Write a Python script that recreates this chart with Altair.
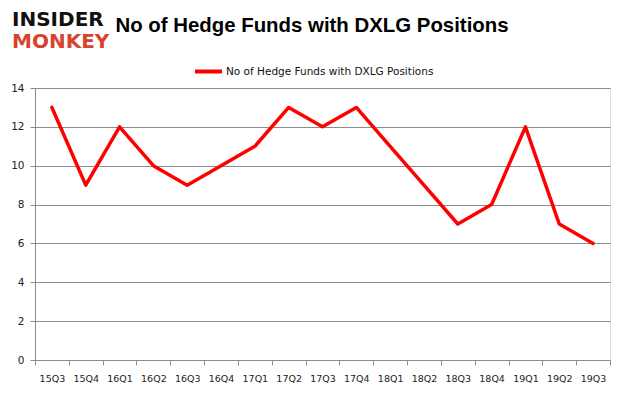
import altair as alt
import pandas as pd

quarters = ["15Q3", "15Q4", "16Q1", "16Q2", "16Q3", "16Q4", "17Q1", "17Q2", "17Q3",
            "17Q4", "18Q1", "18Q2", "18Q3", "18Q4", "19Q1", "19Q2", "19Q3"]
funds = [13, 9, 12, 10, 9, 10, 11, 13, 12, 13, 11, 9, 7, 8, 12, 7, 6]
series_name = "No of Hedge Funds with DXLG Positions"

df = pd.DataFrame({
    "quarter": quarters,
    "pos": [i + 0.5 for i in range(len(quarters))],
    "funds": funds,
    "series": [series_name] * len(quarters),
})

FONT = "DejaVu Sans"
GRID = "#8c8c8c"
n = len(quarters)
label_expr = ("datum.value < " + str(n) + " ? [" + ",".join(f"'{q}'" for q in quarters)
              + "][datum.value] : ''")

W, H = 575, 272
xscale = alt.Scale(domain=[0, n], nice=False, zero=False)
yscale = alt.Scale(domain=[0, 14], nice=False)

line_layer = alt.Chart(df).mark_line(strokeWidth=3.5, strokeJoin="round", strokeCap="round").encode(
    x=alt.X("pos:Q", scale=xscale,
            axis=alt.Axis(values=list(range(n + 1)), labelExpr=label_expr,
                          labelOffset=W / n / 2, title=None, grid=False,
                          tickColor=GRID, tickSize=5, domainColor=GRID,
                          labelFont=FONT, labelFontSize=9.5, labelColor="#222222",
                          labelPadding=8, labelBound=False, labelOverlap=False,
                          labelFlush=False)),
    y=alt.Y("funds:Q", scale=yscale,
            axis=alt.Axis(values=list(range(0, 15, 2)), title=None, grid=True, gridColor=GRID,
                          gridWidth=1, tickColor=GRID, tickSize=5, domainColor=GRID,
                          labelFont=FONT, labelFontSize=10.5, labelColor="#222222",
                          labelPadding=6)),
    color=alt.Color("series:N",
                    scale=alt.Scale(domain=[series_name], range=["#ff0000"]),
                    legend=alt.Legend(orient="none", legendX=158, legendY=-32, title=None,
                                      symbolType="stroke", symbolSize=729,
                                      symbolStrokeWidth=4, labelFont=FONT,
                                      labelFontSize=10.5, labelColor="#111111",
                                      labelLimit=400, labelOffset=2)),
)

text_df = pd.DataFrame({"t1": ["INSIDER"], "t2": ["MONKEY"], "title": [series_name]})
logo1 = alt.Chart(text_df).mark_text(
    font="DejaVu Sans", fontWeight="bold", fontSize=20, align="left", baseline="alphabetic",
    color="#111111"
).encode(text="t1:N", x=alt.value(-23), y=alt.value(-62))
logo2 = alt.Chart(text_df).mark_text(
    font="DejaVu Sans", fontWeight="bold", fontSize=20, align="left", baseline="alphabetic",
    color="#d8432f"
).encode(text="t2:N", x=alt.value(-23), y=alt.value(-40))
title = alt.Chart(text_df).mark_text(
    font="Liberation Sans", fontWeight="bold", fontSize=20.4, align="center",
    baseline="middle", color="#000000"
).encode(text="title:N", x=alt.value(277), y=alt.value(-62))

chart = alt.layer(line_layer, logo1, logo2, title).properties(
    width=W,
    height=H,
    autosize=alt.AutoSizeParams(type="none"),
    padding={"left": 27, "top": 80, "right": 7, "bottom": 26},
).configure_view(stroke=None).configure(background="white")

chart.save("out.html", embed_options={"renderer": "svg", "actions": False})
